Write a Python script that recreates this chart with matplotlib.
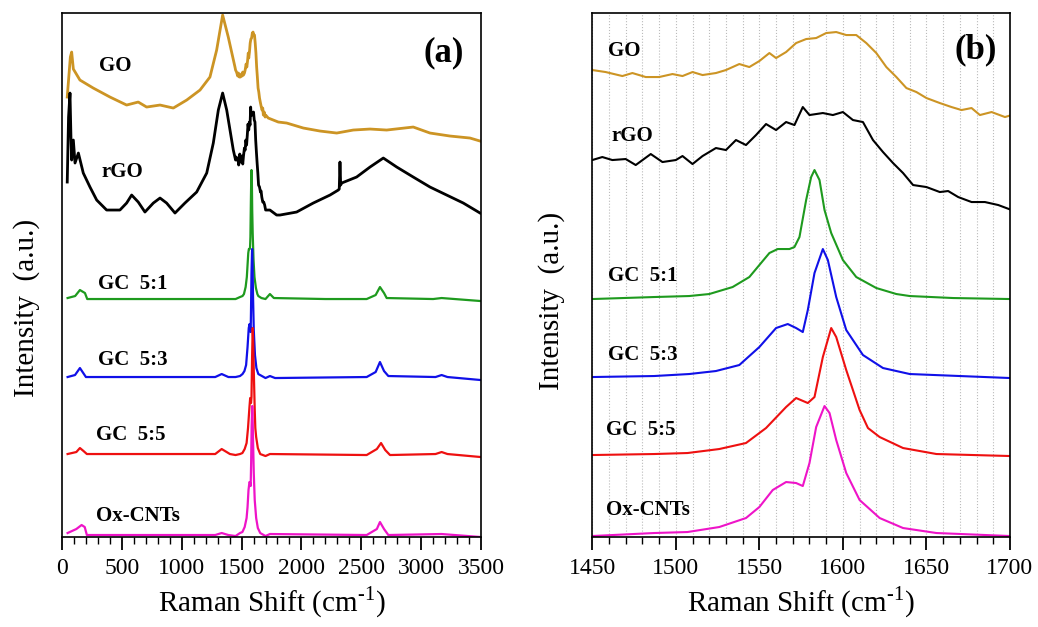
import numpy as np
import matplotlib
matplotlib.use('Agg')
import matplotlib.pyplot as plt
from matplotlib.ticker import MultipleLocator

plt.rcParams['font.family'] = ['Liberation Serif', 'DejaVu Serif']
plt.rcParams['mathtext.fontset'] = 'custom'
plt.rcParams['mathtext.rm'] = 'Liberation Serif'

# Raman spectra, intensities in a.u. (stacked as in the figure)
go_x = [44, 70, 81, 95, 150, 261, 401, 540, 637, 707, 819, 930, 1042, 1153, 1236, 1292, 1342, 1389, 1445,
        1450, 1458, 1468, 1474, 1482, 1490, 1498, 1504, 1510, 1516, 1524, 1530, 1538, 1544, 1550, 1556,
        1560, 1566, 1572, 1578, 1584, 1590, 1596, 1602, 1608, 1614, 1620, 1626, 1632, 1638, 1644, 1650,
        1658, 1665, 1671, 1677, 1682, 1689, 1697, 1701,
        1723, 1807, 1877, 2016, 2155, 2295, 2433, 2573, 2712, 2934, 3074, 3241, 3408, 3492]
go_y = [440, 480, 485, 468, 457, 449, 440, 432, 435, 430, 432, 429, 437, 447, 460, 487, 522, 500, 470,
        467, 465, 461, 464, 460, 460, 463, 461, 465, 462, 464, 467, 473, 470, 476, 484,
        479, 485, 494, 498, 499, 504, 505, 502, 502, 494, 484, 470, 460, 449, 445, 439,
        434, 430, 427, 429, 422, 425, 420, 422,
        419, 415, 414, 409, 406, 404, 407, 408, 407, 410, 404, 401, 399, 396]

rgo_x = [44, 55, 67, 75, 81, 95, 109, 137, 178, 234, 290, 373, 484, 540, 582, 637, 693, 763, 819, 874,
         944, 1027, 1125, 1209, 1264, 1306, 1342, 1376, 1431,
         1450, 1456, 1462, 1470, 1476, 1485, 1492, 1500, 1504, 1510, 1516, 1524, 1530, 1536, 1542, 1548,
         1554, 1560, 1566, 1571, 1576, 1580, 1588, 1594, 1600, 1606, 1612, 1618, 1624, 1630, 1636, 1642,
         1650, 1658, 1663, 1669, 1677, 1685, 1693, 1701,
         1737, 1793, 1821, 1960, 2099, 2239, 2308, 2316, 2322, 2328, 2336, 2461, 2573, 2684, 2796, 2934,
         3074, 3213, 3352, 3492]
rgo_y = [355, 420, 444, 400, 377, 397, 374, 384, 364, 350, 337, 327, 327, 334, 342, 335, 325, 334, 339, 334,
         324, 334, 345, 364, 394, 427, 444, 427, 387,
         377, 380, 377, 378, 372, 383, 375, 377, 381, 373, 381, 389, 387, 397, 392, 402,
         413, 407, 415, 412, 430, 422, 424, 422, 425, 417, 415, 397, 385, 374, 364, 352,
         350, 345, 346, 340, 335, 335, 332, 327,
         327, 322, 322, 325, 334, 342, 347, 348, 375, 352, 354, 360, 370, 379, 370, 360,
         350, 342, 334, 324]

gc51_x = [47, 110, 150, 192, 211, 500, 1000, 1300,
          1450, 1487, 1508, 1520, 1534, 1544, 1550, 1556, 1561, 1568, 1571, 1574, 1578, 1581, 1583, 1586,
          1589, 1593, 1600, 1608, 1620, 1632, 1640, 1666, 1700,
          1737, 1770, 2200, 2545, 2620, 2656, 2690, 2712, 3100, 3171, 3497]
gc51_y = [239, 241, 247, 244, 238, 238, 238, 238,
          238, 240, 241, 243, 250, 260, 272, 284, 288, 288, 290, 300, 337, 360, 367, 357,
          327, 304, 277, 260, 249, 243, 241, 239, 238,
          243, 239, 238, 238, 242, 250, 244, 239, 238, 239, 236]

gc53_x = [47, 109, 150, 200, 1280, 1334, 1390,
          1450, 1487, 1508, 1524, 1538, 1550, 1560, 1567, 1572, 1576, 1579, 1583, 1588, 1591, 1596, 1602,
          1612, 1624, 1640, 1700,
          1737, 1780, 2545, 2620, 2656, 2690, 2726, 3120, 3171, 3220, 3497]
gc53_y = [160, 162, 169, 160, 160, 163, 160,
          160, 161, 163, 166, 172, 190, 209, 213, 209, 205, 227, 264, 288, 277, 240, 207,
          182, 169, 163, 159,
          161, 159, 160, 165, 175, 166, 161, 160, 162, 160, 157]

gc55_x = [47, 120, 150, 180, 208, 1280, 1334, 1403,
          1450, 1487, 1507, 1526, 1542, 1554, 1566, 1572, 1579, 1583, 1588, 1593, 1596, 1602, 1610,
          1615, 1622, 1636, 1656, 1700,
          1737, 2545, 2630, 2665, 2700, 2740, 3120, 3171, 3220, 3497]
gc55_y = [83, 85, 89, 86, 83, 83, 88, 83,
          82, 83, 84, 88, 94, 109, 130, 139, 134, 140, 180, 209, 200, 167, 127,
          109, 100, 89, 83, 81,
          83, 82, 88, 94, 87, 82, 83, 85, 83, 80]

cnt_x = [47, 120, 164, 190, 208, 1280, 1334, 1390,
         1450, 1487, 1507, 1526, 1542, 1550, 1558, 1566, 1572, 1576, 1580, 1584, 1589, 1592, 1596, 1602,
         1610, 1622, 1636, 1656, 1700,
         1737, 2545, 2630, 2656, 2690, 2726, 3171, 3497]
cnt_y = [4, 8, 12, 10, 2, 2, 4, 2,
         1, 4, 5, 10, 19, 30, 47, 55, 54, 51, 74, 110, 131, 124, 97, 64,
         37, 19, 9, 4, 1,
         3, 2, 8, 15, 8, 2, 3, 0]

names = ['GO', 'rGO', 'GC  5:1', 'GC  5:3', 'GC  5:5', 'Ox-CNTs']
xs = [go_x, rgo_x, gc51_x, gc53_x, gc55_x, cnt_x]
ys = [go_y, rgo_y, gc51_y, gc53_y, gc55_y, cnt_y]
colors = ['#CC9424', 'black', '#1E9A1E', '#1010E8', '#EE1010', '#EE14C8']

fig = plt.figure(figsize=(10.38, 6.27), dpi=100)
ax1 = fig.add_axes([0.0597, 0.1435, 0.4037, 0.8357])
ax2 = fig.add_axes([0.5706, 0.1435, 0.4024, 0.8357])

for i in range(len(names)):
    lw = 2.0 if i < 2 else 1.6
    ax1.plot(xs[i], ys[i], color=colors[i], lw=lw)
    ax2.plot(xs[i], ys[i], color=colors[i], lw=1.5)

# label positions (axes fraction)
pos_a = [(0.088, 0.898), (0.095, 0.696), (0.086, 0.482), (0.086, 0.337), (0.081, 0.194), (0.081, 0.041)]
pos_b = [(0.038, 0.928), (0.047, 0.766), (0.038, 0.499), (0.038, 0.347), (0.033, 0.205), (0.033, 0.051)]
for i in range(len(names)):
    ax1.text(pos_a[i][0], pos_a[i][1], names[i], transform=ax1.transAxes,
             fontsize=15, fontweight='bold', ha='left', va='center')
    ax2.text(pos_b[i][0], pos_b[i][1], names[i], transform=ax2.transAxes,
             fontsize=15, fontweight='bold', ha='left', va='center')

ax1.text(0.959, 0.925, '(a)', transform=ax1.transAxes, fontsize=25, fontweight='bold', ha='right', va='center')
ax2.text(0.969, 0.929, '(b)', transform=ax2.transAxes, fontsize=25, fontweight='bold', ha='right', va='center')

ax1.set_xlim(0, 3500)
ax1.xaxis.set_major_locator(MultipleLocator(500))
ax1.xaxis.set_minor_locator(MultipleLocator(100))
ax2.set_xlim(1450, 1700)
ax2.xaxis.set_major_locator(MultipleLocator(50))
ax2.xaxis.set_minor_locator(MultipleLocator(10))
ax2.grid(True, which='both', axis='x', color='#BBBBBB', linestyle=':', lw=0.8)

for ax in (ax1, ax2):
    ax.set_ylim(0, 524)
    ax.set_yticks([])
    ax.tick_params(axis='x', which='major', direction='out', length=9, width=1.3, labelsize=17, pad=6)
    ax.tick_params(axis='x', which='minor', direction='out', length=5, width=1.0)
    for s in ax.spines.values():
        s.set_linewidth(1.2)
    ax.set_xlabel(r'Raman Shift (cm$^{\text{-1}}$)', fontsize=21, labelpad=4)

fig.text(0.0255, 0.509, 'Intensity  (a.u.)', rotation=90, fontsize=21, ha='center', va='center')
fig.text(0.531, 0.52, 'Intensity  (a.u.)', rotation=90, fontsize=21, ha='center', va='center')

fig.savefig('out.png', dpi=100)
